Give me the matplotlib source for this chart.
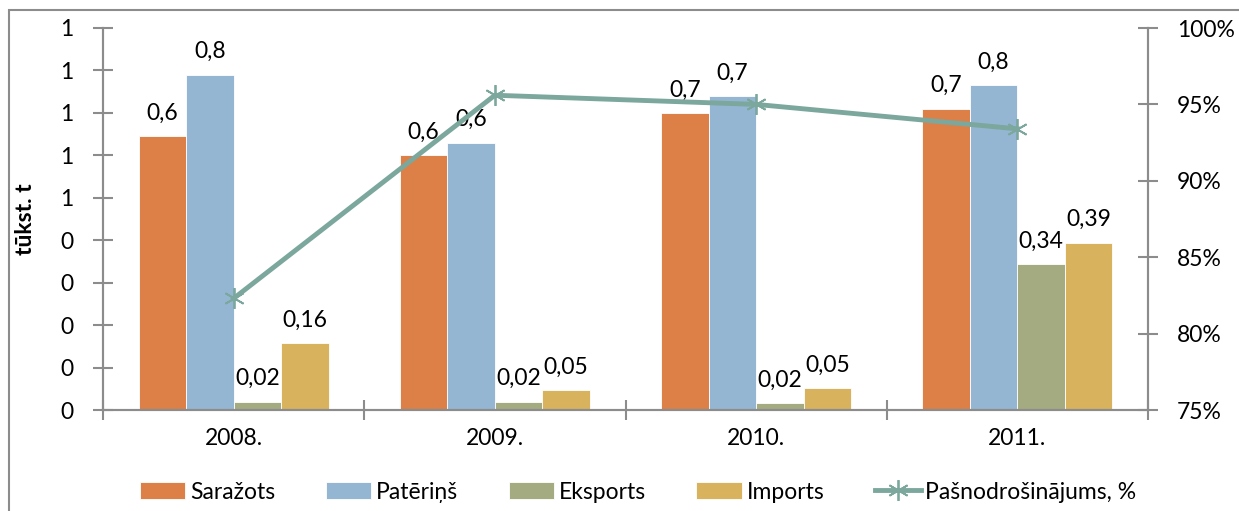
import matplotlib.pyplot as plt
import matplotlib.patches as mpatches
import numpy as np

plt.rcParams['font.family'] = ['Lato', 'DejaVu Sans']

gadi = ['2008.', '2009.', '2010.', '2011.']
sarazots = [0.645, 0.60, 0.70, 0.71]
paterins = [0.79, 0.63, 0.74, 0.765]
eksports = [0.02, 0.02, 0.016, 0.344]
imports = [0.158, 0.047, 0.052, 0.394]
pasnodrosinajums = [82.3, 95.6, 95.0, 93.4]

y_ticks = [0, 0.1, 0.2, 0.3, 0.4, 0.5, 0.6, 0.7, 0.8, 0.9]
y_tick_labels = ['0', '0', '0', '0', '0', '1', '1', '1', '1', '1']
y2_ticks = [75, 80, 85, 90, 95, 100]

krasas = {'Saražots': '#DD8047', 'Patēriņš': '#94B6D2',
          'Eksports': '#A5AB81', 'Imports': '#D8B25C'}
linijas_krasa = '#7BA79D'
ass_krasa = '#8C8C8C'
fs = 16.5


def formats(v):
    # mazajām vērtībām divas zīmes aiz komata
    if v < 0.5:
        return f"{v:.2f}".replace('.', ',')
    return f"{v:.1f}".replace('.', ',')


fig = plt.figure(figsize=(12.39, 5.11), dpi=100)
ax = fig.add_axes([103 / 1239, 101 / 511, 1045 / 1239, 382 / 511])
ax2 = ax.twinx()

x = np.arange(len(gadi))
w = 0.182
serijas = [sarazots, paterins, eksports, imports]
nosaukumi = list(krasas.keys())
rokturi = []
for i, (vert, nos) in enumerate(zip(serijas, nosaukumi)):
    poz = x + (i - 1.5) * w
    stab = ax.bar(poz, vert, w, color=krasas[nos], edgecolor='white', linewidth=0.6, label=nos, zorder=2)
    rokturi.append(stab)
    for px, v in zip(poz, vert):
        ax.annotate(formats(v), xy=(px, v), xytext=(0, 9), textcoords='offset points',
                    ha='center', va='bottom', fontsize=fs, zorder=5)

lin, = ax2.plot(x, pasnodrosinajums, color=linijas_krasa, linewidth=3.5,
                marker=(6, 2, 0), markersize=15, markeredgewidth=1.3, label='Pašnodrošinājums, %', zorder=3)

ax.set_xlim(-0.5, 3.5)
ax.set_ylim(0, 0.9)
ax2.set_ylim(75, 100)
ax.set_yticks(y_ticks)
ax.set_yticklabels(y_tick_labels)
ax2.set_yticks(y2_ticks)
ax2.set_yticklabels([f"{t}%" for t in y2_ticks])
ax.set_xticks(x)
ax.set_xticklabels(gadi)
ax.set_xticks(np.arange(-0.5, 4, 1), minor=True)

for a in (ax, ax2):
    a.spines['top'].set_visible(False)
    for s in ('left', 'right', 'bottom'):
        a.spines[s].set_color(ass_krasa)
        a.spines[s].set_linewidth(1.5)
ax.tick_params(axis='y', direction='inout', length=14, width=1.5, color=ass_krasa, labelsize=fs, pad=14)
ax2.tick_params(axis='y', direction='inout', length=14, width=1.5, color=ass_krasa, labelsize=fs, pad=14)
ax.tick_params(axis='x', which='major', length=0, labelsize=fs, pad=13)
ax.tick_params(axis='x', which='minor', direction='inout', length=14, width=1.5, color=ass_krasa)
ax.set_ylabel('tūkst. t', fontsize=fs, fontweight='bold', labelpad=18)

fig.legend(rokturi + [lin], nosaukumi + ['Pašnodrošinājums, %'], loc='center',
           bbox_to_anchor=(0.515, 0.037), ncol=5, frameon=False, fontsize=fs,
           handlelength=2.0, handleheight=0.8, handletextpad=0.2, columnspacing=2.2)

fig.patches.append(mpatches.Rectangle((9 / 1239, -0.1), 1.2, 0.1 + 501 / 511, transform=fig.transFigure,
                                      fill=False, edgecolor=ass_krasa, linewidth=1.5))

fig.savefig('out.png', dpi=100)
